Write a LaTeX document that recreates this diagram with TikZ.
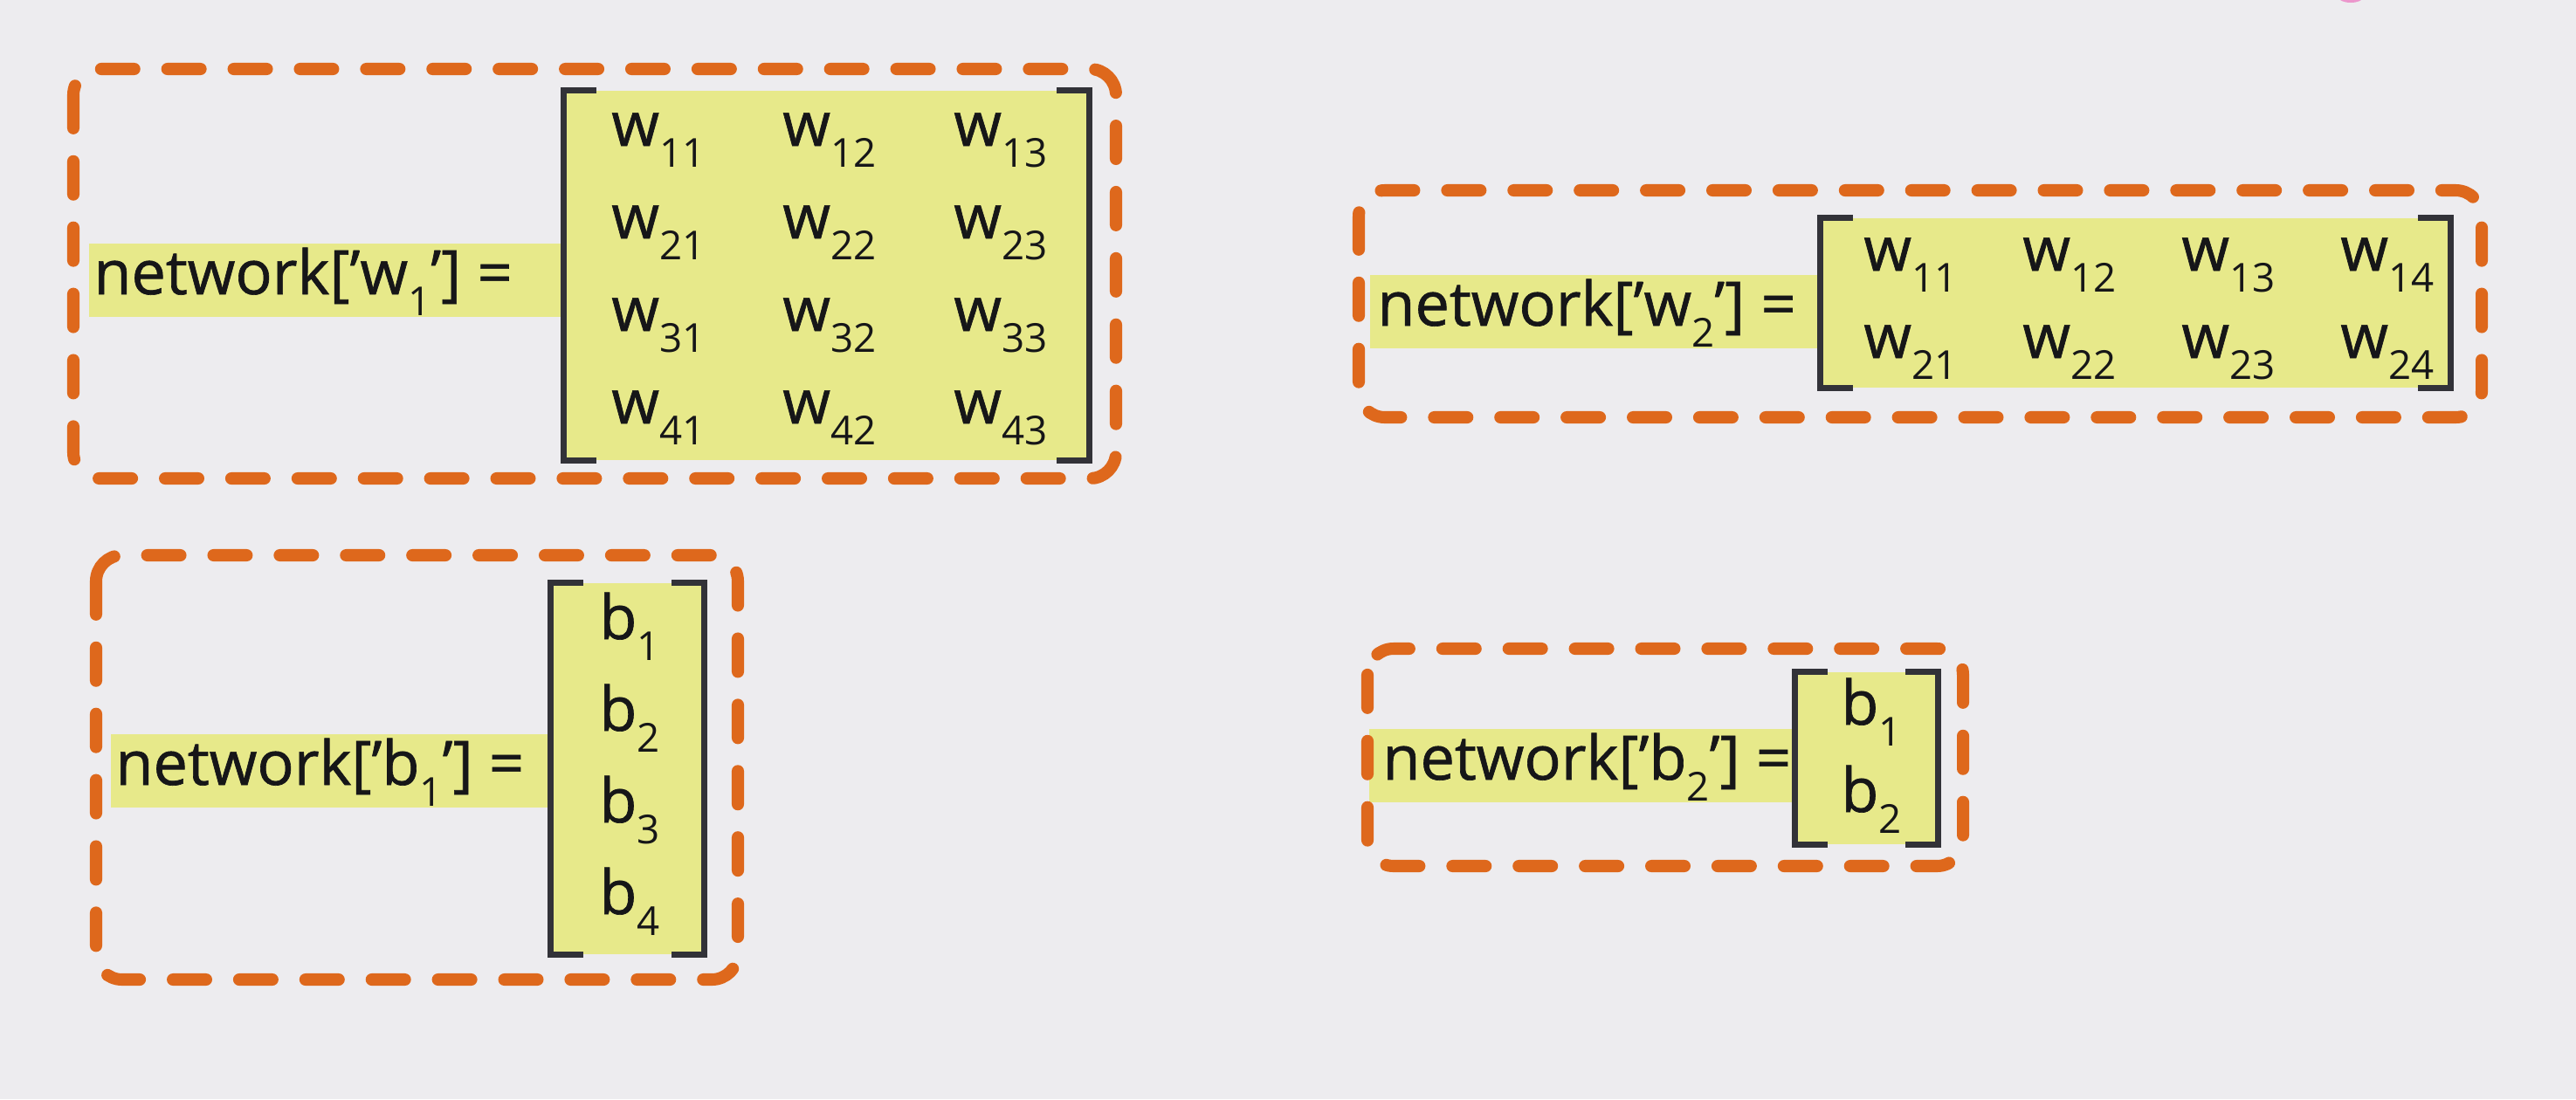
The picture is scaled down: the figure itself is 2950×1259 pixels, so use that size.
\documentclass[tikz,border=0pt]{standalone}
\usepackage{fontspec}
\setmainfont{Open Sans}[FakeBold=0.9]
\newfontfamily\subfont{Open Sans}
\usetikzlibrary{positioning,backgrounds,calc}
\definecolor{pagebg}{RGB}{237,236,239}
\definecolor{hl}{RGB}{231,233,138}
\definecolor{dashorange}{RGB}{222,104,28}
\definecolor{brkgray}{RGB}{50,50,56}
\definecolor{ink}{RGB}{22,22,24}
\definecolor{pinkmark}{RGB}{236,150,204}
\newcommand{\lowix}[1]{\raisebox{-13.7pt}{\subfont\fontsize{26}{30}\selectfont #1}}
\tikzset{
  dashframe/.style={draw=dashorange, line width=8pt, dash pattern=on 21.6pt off 21.6pt, line cap=round, rounded corners=17pt},
  lbl/.style={anchor=base west, inner ysep=0pt, inner xsep=0.1cm, text height=1.16cm, text depth=0.52cm, font=\fontsize{40}{46}\selectfont, text=ink},
  mat/.style={fill=hl, inner sep=0pt},
  entry/.style={anchor=base west, inner sep=0pt, font=\fontsize{40}{46}\selectfont, text=ink},
  brk/.style={draw=brkgray, line width=4pt}
}

\begin{document}
\begin{tikzpicture}[x=0.02cm, y=-0.02cm]
\useasboundingbox (0,0) rectangle (2950,1259);

% matrices (yellow blocks)
\node[mat, minimum width=12.02cm, minimum height=8.46cm] (mw1) at (946.5,315.5) {};
\node[mat, minimum width=14.42cm, minimum height=3.88cm] (mw2) at (2445.5,347) {};
\node[mat, minimum width=3.5cm, minimum height=8.5cm] (mb1) at (718.5,880.5) {};
\node[mat, minimum width=3.26cm, minimum height=3.94cm] (mb2) at (2137.5,868.5) {};

% labels
\node[lbl] (lw1) at (102,337) {network[’w\lowix{1}’] =};
\node[lbl, inner xsep=0.16cm] (lw2) at (1569,373) {network[’w\lowix{2}’] =};
\node[lbl] (lb1) at (127,899) {network[’b\lowix{1}’] =};
\node[lbl, inner xsep=0.3cm] (lb2) at (1568,893) {network[’b\lowix{2}’] =};

\begin{scope}[on background layer]
  \fill[pagebg] (0,0) rectangle (2950,1259);
  \fill[hl] (lw1.north west) rectangle (mw1.west |- lw1.south);
  \fill[hl] (lw2.north west) rectangle (mw2.west |- lw2.south);
  \fill[hl] (lb1.north west) rectangle (mb1.west |- lb1.south);
  \fill[hl] (lb2.north west) rectangle (mb2.west |- lb2.south);
\end{scope}

% entries
\foreach \r in {1,...,4}
  \foreach \c in {1,2,3}
    \node[entry] (w1-\r\c) at ({700+196*(\c-1)},{167+106*(\r-1)}) {w\lowix{\r\c}};
\foreach \r in {1,2}
  \foreach \c in {1,...,4}
    \node[entry] (w2-\r\c) at ({2134+182*(\c-1)},{310+100*(\r-1)}) {w\lowix{\r\c}};
\foreach \r in {1,...,4}
  \node[entry] (b1-\r) at (686,{732+105*(\r-1)}) {b\lowix{\r}};
\foreach \r in {1,2}
  \node[entry] (b2-\r) at (2108,{830+100*(\r-1)}) {b\lowix{\r}};

% brackets
\foreach \m in {mw1,mw2,mb1,mb2} {
  \draw[brk] (\m.north west) ++(37,0) -- (\m.north west) -- (\m.south west) -- ++(37,0);
  \draw[brk] (\m.north east) ++(-37,0) -- (\m.north east) -- (\m.south east) -- ++(-37,0);
}

% dashed frames
\draw[dashframe] (84,79) rectangle (1278,548);
\draw[dashframe] (1556,218) rectangle (2842,478);
\draw[dashframe] (110,636) rectangle (845,1122);
\draw[dashframe] (1566,743) rectangle (2248,992);

\fill[pinkmark] (2692,-3) ellipse [x radius=0.28cm, y radius=0.12cm];
\end{tikzpicture}
\end{document}
